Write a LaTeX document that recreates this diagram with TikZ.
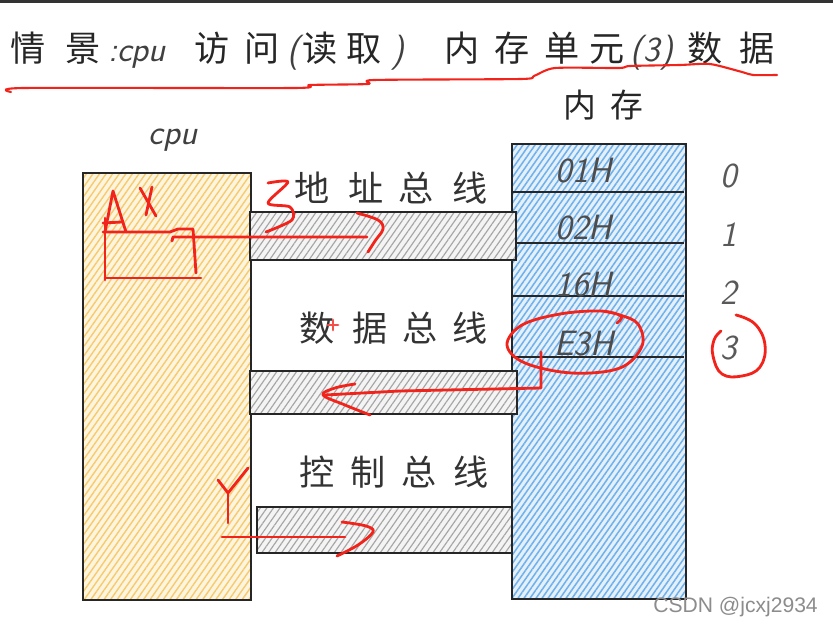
\documentclass[tikz,border=0pt]{standalone}
\usepackage{fontspec}
\newfontfamily\cjk{Noto Sans CJK SC}
\newfontfamily\wmfont{Liberation Sans}
\usetikzlibrary{patterns.meta}
\definecolor{cpuback}{HTML}{FEF5DF}
\definecolor{cpuline}{HTML}{F7CA6E}
\definecolor{memback}{HTML}{E4F0FB}
\definecolor{memline}{HTML}{6FB1EA}
\definecolor{busback}{HTML}{F4F4F4}
\definecolor{busline}{HTML}{A6A6A6}
\definecolor{pen}{HTML}{F2231B}
\tikzset{
  box/.style={draw=black!85, line width=1.6pt},
  cpu hatch/.style={preaction={fill=cpuback}, pattern={Lines[angle=55,distance=4.6pt,line width=1.2pt]}, pattern color=cpuline},
  mem hatch/.style={preaction={fill=memback}, pattern={Lines[angle=55,distance=4.2pt,line width=1.3pt]}, pattern color=memline},
  bus hatch/.style={preaction={fill=busback}, pattern={Lines[angle=55,distance=4.6pt,line width=1pt]}, pattern color=busline},
  hand/.style={pen, line width=2.4pt, line cap=round, line join=round},
  titlechar/.style={anchor=base, inner sep=0pt, text=black!85, font=\cjk\fontsize{30}{36}\selectfont},
  titlelatin/.style={anchor=base, inner sep=0pt, text=black!75, font=\sffamily\itshape\fontsize{30}{36}\selectfont},
  buschar/.style={anchor=base, inner sep=0pt, text=black!80, font=\cjk\fontsize{30}{36}\selectfont},
  cell/.style={anchor=base, inner sep=0pt, text=black!70, font=\sffamily\itshape\fontsize{30}{36}\selectfont},
  addr/.style={anchor=base, inner sep=0pt, text=black!65, font=\sffamily\itshape\fontsize{30}{36}\selectfont}
}
\begin{document}
\begin{tikzpicture}[x=0.03cm, y=-0.03cm]
\useasboundingbox[fill=white] (0,0) rectangle (833,626);
\fill[black!80] (0,0) rectangle (833,3);
% titolo
\foreach \c/\x [count=\i] in {情/28,景/83,访/212,问/262,读/320,取/364,内/462,存/512,单/562,元/607,数/705,据/757}
  \node[titlechar] (t\i) at (\x,62) {\c};
\node[titlelatin] (tcpu) at (137,62) {:cpu};
\node[titlelatin] (topen) at (294,62) {(};
\node[titlelatin] (tclose) at (398,62) {)};
\node[titlelatin] (tunit) at (652,62) {(3)};
\draw[hand, line width=1.8pt] plot[smooth, tension=0.4] coordinates {(11,92) (24,88) (294,88) (310,85) (368,84) (374,80) (521,79) (534,76) (555,68) (619,68) (630,66) (680,65) (710,64) (742,72) (753,75) (777,75)};
% cpu
\node[titlelatin] (cpulabel) at (173,145) {cpu};
\draw[box, cpu hatch] (83,173) rectangle (251,600);
% memoria
\foreach \c/\x [count=\i] in {内/580,存/627}
  \node[titlechar, font=\cjk\fontsize{28}{34}\selectfont] (m\i) at (\x,118) {\c};
\draw[box, mem hatch] (512,144) rectangle (686,599);
\foreach \y in {192,243,296,357}
  \draw[box] (512,\y) -- (684,\y);
\foreach \t/\y [count=\i] in {01H/183,02H/240,16H/297,E3H/356}
  \node[cell] (c\i) at (584,\y) {\t};
\foreach \t/\y in {0/188,1/247,2/305,3/360}
  \node[addr] (a\t) at (729,\y) {\t};
% bus
\draw[box, bus hatch] (250,212) rectangle (516,260);
\draw[box, bus hatch] (250,371) rectangle (517,414);
\draw[box, bus hatch] (257,507) rectangle (512,553);
\foreach \c/\x [count=\i] in {地/312,址/366,总/416,线/470}
  \node[buschar] (ab\i) at (\x,202) {\c};
\foreach \c/\x [count=\i] in {数/317,据/370,总/420,线/470}
  \node[buschar] (db\i) at (\x,342) {\c};
\foreach \c/\x [count=\i] in {控/317,制/368,总/419,线/471}
  \node[buschar] (cb\i) at (\x,486) {\c};
% AX e indirizzo 3
\draw[hand] (105,232) -- (113,191) -- (126,232);
\draw[hand] (103,223) -- (122,222);
\draw[hand] (140,188) -- (156,216);
\draw[hand] (152,187) -- (146,215);
\draw[hand] (105,218) -- (105,280);
\draw[hand] (103,232) -- (170,232) -- (178,229) -- (193,229) -- (196,273);
\draw[hand] (105,278) -- (201,278);
\draw[hand] (172,241) -- (173,237) -- (367,237);
\draw[hand] plot[smooth, tension=0.6] coordinates {(357,213) (378,220) (383,229) (375,241) (368,252)};
\draw[hand] plot[smooth, tension=0.5] coordinates {(268,183) (288,182) (268,203) (290,207) (292,220) (266,232)};
% dato E3H
\draw[hand] plot[smooth, tension=0.6] coordinates {(617,323) (621,316) (600,311) (560,314) (522,325) (507,345) (525,363) (572,373) (620,368) (642,346) (638,324) (620,315) (602,311)};
\draw[hand] (541,352) -- (541,388) -- (400,391) -- (325,395);
\draw[hand] plot[smooth, tension=0.6] coordinates {(355,384) (335,388) (323,395) (345,405) (370,415)};
\draw[hand] plot[smooth, tension=0.7] coordinates {(736,315) (755,324) (765,345) (760,367) (742,376) (722,374) (713,356) (714,340) (721,331)};
\draw[hand, pen!80] (333,320) -- (333,330) (328,325) -- (338,325);
% controllo Y
\draw[hand] (218,480) -- (228,493) -- (248,468);
\draw[hand] (228,493) -- (228,523);
\draw[hand] (222,537) -- (345,537);
\draw[hand] plot[smooth, tension=0.6] coordinates {(342,522) (366,526) (373,532) (358,545) (337,556)};
% watermark
\node[anchor=base east, inner sep=0pt, text=black!45, font=\wmfont\fontsize{18}{21}\selectfont] (wm) at (818,612) {CSDN @jcxj2934};
\end{tikzpicture}
\end{document}
